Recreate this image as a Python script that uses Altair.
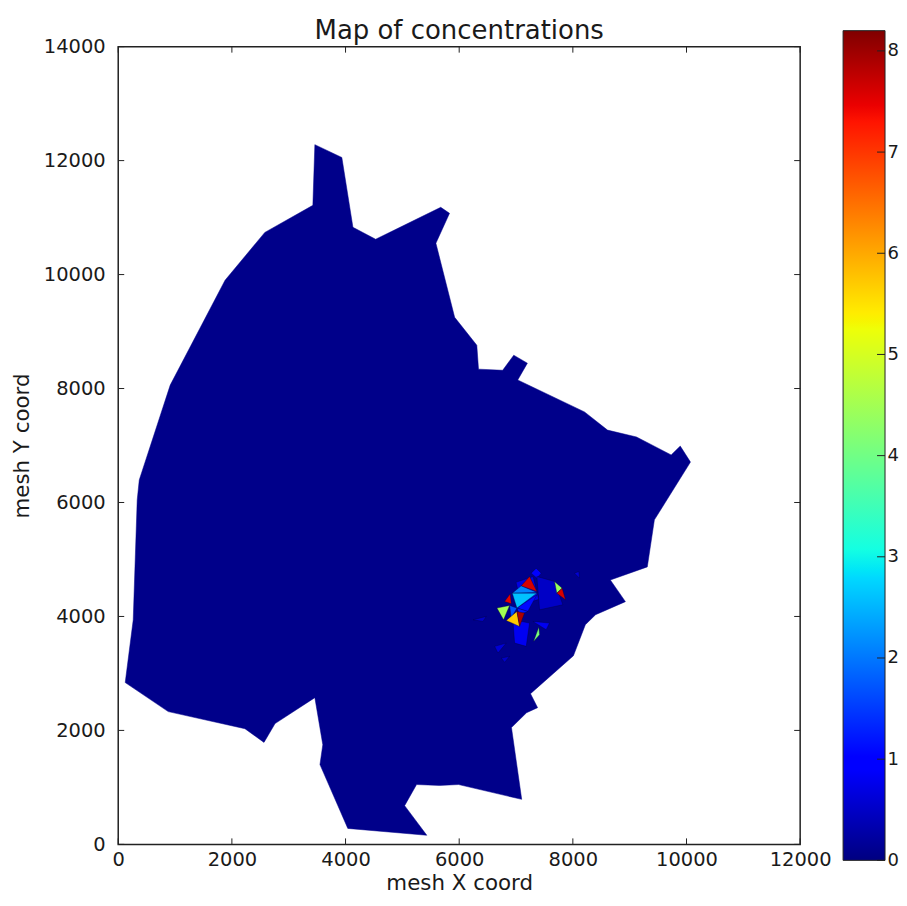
import altair as alt
import pandas as pd

# Domain outline (mesh X, mesh Y)
outline_x = [123,264,334,370,915,1880,2580,3425,3460,3935,4130,4530,5675,5830,5590,5920,6310,6340,6765,6960,7200,7030,8205,8610,9120,9730,9890,10070,9435,9310,8660,8925,8400,8220,8010,7255,7380,7185,6920,7100,5990,5655,5250,5040,5430,4040,3550,3600,3460,2760,2565,2230,880]
outline_y = [2840,3940,6045,6395,8060,9900,10740,11215,12280,12055,10830,10620,11180,11075,10550,9250,8760,8340,8320,8585,8445,8150,7590,7270,7150,6835,6990,6710,5695,4870,4640,4260,4030,3855,3310,2645,2400,2310,2050,790,1050,1035,1050,680,160,280,1400,1750,2575,2120,1790,2030,2330]

# Non-zero cells: (concentration, [x...], [y...])
cell_values = [0.8,0.9,0.5,0.8,0.7,0.5,0.6,0.5,0.6,1.1,1.2,1.7,2.1,2.6,7.6,7.5,4.5,5.7,7.9,4.4,7.6,4.1]
cell_x = [
 [6945,7238,7180,6975],[7267,7355,7443,7367],[7367,7677,7824,7414],[7297,7589,7531],
 [7000,7300,7400,7100],[6243,6477,6418],[6623,6828,6682],[6740,6887,6799],[8029,8105,8117],
 [7016,7367,7208],[7016,7208,7063],[6887,7016,6916],[7092,6934,7367],[6934,7367,7016],
 [7092,7238,7367],[6799,6898,6916],[6664,6887,6781],[6828,7016,7063],[7016,7150,7063],
 [7677,7812,7718],[7718,7812,7871],[7402,7414,7308]]
cell_y = [
 [3942,3884,3475,3533],[4760,4848,4760,4672],[4702,4614,4205,4117],[3913,3884,3767],
 [4600,4700,4300,4200],[3942,4001,3913],[3475,3533,3358],[3270,3300,3194],[4760,4789,4672],
 [4147,4380,4088],[4147,4088,4030],[4193,4147,3971],[4538,4409,4421],[4409,4409,4147],
 [4538,4701,4439],[4263,4398,4223],[4147,4193,3942],[3930,4088,3825],[4088,4059,3825],
 [4614,4497,4409],[4409,4497,4293],[3814,3679,3562]]

# jet colormap
jet_pos = [0,.11,.125,.34,.35,.375,.64,.65,.66,.89,.91,1]
jet_col = ["#000080","#0000ff","#0000ff","#00d8ff","#00e6f7","#14ffe2","#eeff08","#f7f500","#ffec00","#ff1400","#eb0000","#800000"]
vmax = 8.2

x_ticks = [0,2000,4000,6000,8000,10000,12000]
y_ticks = [0,2000,4000,6000,8000,10000,12000,14000]
bar_ticks = [0,1,2,3,4,5,6,7,8]

FONT = "DejaVu Sans"
TS = 19.5
AS = 21.4
INK = "#1a1a1a"

out_df = pd.DataFrame({"X": outline_x, "Y": outline_y, "i": range(len(outline_x))})
rows = []
for c,(v,xs_,ys_) in enumerate(zip(cell_values, cell_x, cell_y)):
    rows += [dict(c=c, v=v, X=x, Y=y, i=i) for i,(x,y) in enumerate(zip(xs_,ys_))]
cell_df = pd.DataFrame(rows)

xs = alt.Scale(domain=[0,12000], nice=False, zero=False)
ys = alt.Scale(domain=[0,14000], nice=False, zero=False)
col = alt.Scale(domain=[p*vmax for p in jet_pos], range=jet_col, interpolate="rgb", clamp=True)

def make_axis(title, ticks, lab, pad):
    return alt.Axis(title=title, values=ticks, format="d", grid=False, ticks=False, domain=False,
                    labelFont=FONT, labelFontSize=TS, titleFont=FONT, titleFontSize=AS,
                    labelColor=INK, titleColor=INK, labelFontWeight="normal",
                    titleFontWeight="normal", labelPadding=lab, labelOverlap=False, titlePadding=pad,
                    labelFlush=False, labelBound=False)

ax_x = make_axis("mesh X coord", x_ticks, 6, 4)
ax_y = make_axis("mesh Y coord", y_ticks, 13, 11)
X = alt.X("X:Q", scale=xs, axis=ax_x)
Y = alt.Y("Y:Q", scale=ys, axis=ax_y)
XT = alt.X("t:Q", scale=xs, axis=ax_x)
YT = alt.Y("t:Q", scale=ys, axis=ax_y)

region = alt.Chart(out_df).mark_line(interpolate="linear-closed", filled=True, fill="#00008a", stroke="#00008a", strokeWidth=0.5).encode(
    x=X, y=Y, order="i:Q")
cells = alt.Chart(cell_df).mark_line(interpolate="linear-closed", filled=True, stroke="#000030", strokeWidth=0.5, strokeOpacity=0.7).encode(
    x=X, y=Y, fill=alt.Fill("v:Q", scale=col, legend=None), detail="c:N", order="i:Q")

xt = pd.DataFrame({"t": x_ticks})
yt = pd.DataFrame({"t": y_ticks})
TL = 6
tb = alt.Chart(xt).mark_rule(color="#222", strokeWidth=1).encode(x=XT, y=alt.value(799), y2=alt.value(799-TL))
tt = alt.Chart(xt).mark_rule(color="#222", strokeWidth=1).encode(x=XT, y=alt.value(0), y2=alt.value(TL))
tl = alt.Chart(yt).mark_rule(color="#222", strokeWidth=1).encode(y=YT, x=alt.value(0), x2=alt.value(TL))
tr = alt.Chart(yt).mark_rule(color="#222", strokeWidth=1).encode(y=YT, x=alt.value(683), x2=alt.value(683-TL))
main = alt.layer(region, cells, tb, tt, tl, tr)

# colour bar
BAR_L, BAR_R = 726, 768
bar_scale = alt.Scale(domain=[0,vmax], range=[815,-16], nice=False, zero=False)
ax_bar = alt.Axis(title=None, orient="right", offset=85, values=bar_ticks, format="d",
        grid=False, ticks=False, domain=False, labelFont=FONT, labelFontSize=18, labelColor=INK,
        labelPadding=2, labelOverlap=False, labelBound=False, labelFlush=False)
stops = [alt.GradientStop(offset=p, color=c) for p,c in zip(jet_pos, jet_col)]
grad = alt.LinearGradient(gradient="linear", x1=0, y1=1, x2=0, y2=0, stops=stops)
bar_df = pd.DataFrame({"lo":[0.0],"hi":[vmax]})
bar = alt.Chart(bar_df).mark_rect(color=grad, stroke="#222", strokeWidth=1).encode(
    y=alt.Y("lo:Q", scale=bar_scale, axis=ax_bar),
    y2="hi:Q",
    x=alt.value(BAR_L), x2=alt.value(BAR_R),
)
bar_t = alt.Chart(pd.DataFrame({"t":bar_ticks})).mark_rule(color="#222", strokeWidth=1).encode(
    y=alt.Y("t:Q", scale=bar_scale, axis=ax_bar), x=alt.value(BAR_R-8), x2=alt.value(BAR_R))
side = alt.layer(bar, bar_t)

chart = alt.layer(main, side).resolve_scale(y="independent").properties(
    width=683, height=799,
    title=alt.TitleParams("Map of concentrations", font=FONT, fontSize=26, fontWeight="normal", color=INK, offset=-14, anchor="middle"),
    padding={"left":2.4,"top":9,"right":0,"bottom":0},
).configure_view(stroke="#222", strokeWidth=1.5)

chart.save("out.html", embed_options={"renderer": "svg", "actions": False})
